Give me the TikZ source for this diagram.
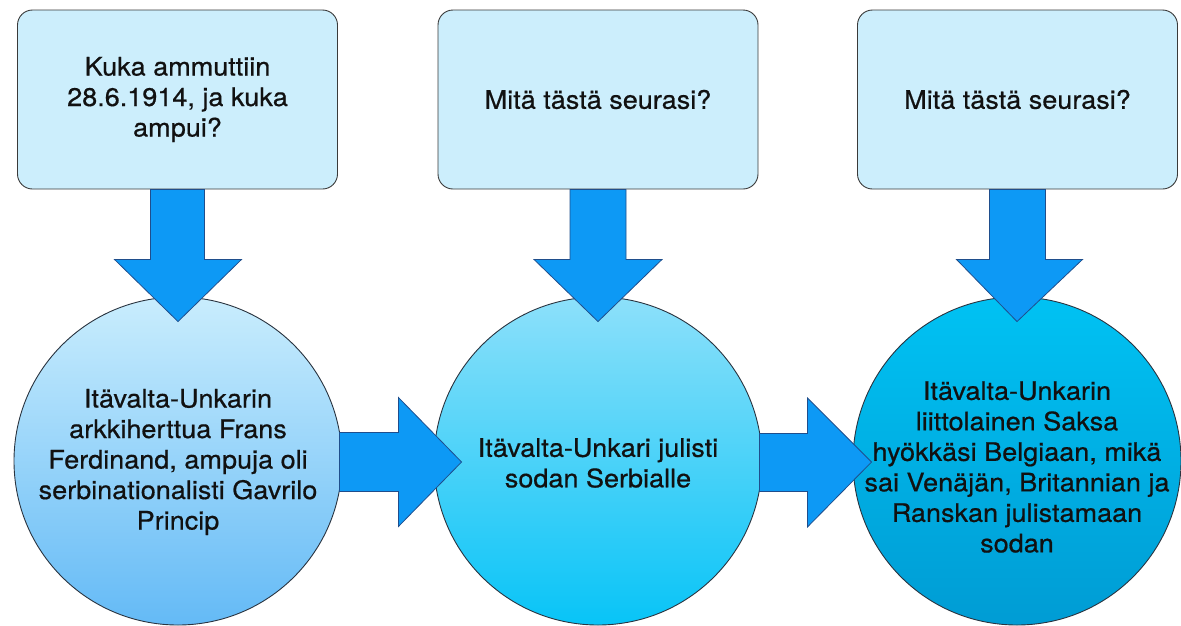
\documentclass[tikz,border=0pt]{standalone}
\usepackage{fontspec}
\setmainfont{TeX Gyre Heros}[FakeStretch=1.06,FakeBold=0.6]
\usetikzlibrary{calc}
\definecolor{boxfill}{HTML}{CCEEFC}
\definecolor{edgegray}{HTML}{3A3A3A}
\definecolor{edgedark}{HTML}{2A3440}
\definecolor{arrowfill}{HTML}{0D99F5}
\definecolor{arrowedge}{HTML}{1F4E8C}
\definecolor{cAtop}{HTML}{C9EDFD}
\definecolor{cAbot}{HTML}{64BAF6}
\definecolor{cBtop}{HTML}{8DE0FA}
\definecolor{cBbot}{HTML}{08C4F7}
\definecolor{cCtop}{HTML}{00C2F3}
\definecolor{cCbot}{HTML}{009CD4}
\definecolor{txt}{HTML}{111111}
\begin{document}
\begin{tikzpicture}[x=1pt,y=-1pt,
  txtfont/.style={font=\fontsize{25.5}{30.5}\selectfont, text=txt},
  qbox/.style={draw=edgegray, line width=0.9pt, fill=boxfill, rounded corners=15pt,
    minimum width=320pt, minimum height=179pt, inner sep=0pt, align=center, txtfont},
  evt/.style={circle, draw=edgedark, line width=0.9pt, minimum size=328pt, inner sep=0pt},
  evttext/.style={align=center, inner sep=0pt, txtfont},
  blockarrow/.style={draw=arrowedge, line width=0.8pt, fill=arrowfill, line join=miter}]
\useasboundingbox (0,0) rectangle (1181,625);

% question boxes
\node[qbox] (b1) at (177.5,99.5) {Kuka ammuttiin\\28.6.1914, ja kuka\\ampui?};
\node[qbox] (b2) at (598,99.5) {Mitä tästä seurasi?};
\node[qbox] (b3) at (1017.5,99.5) {Mitä tästä seurasi?};

% event circles
\node[evt, top color=cAtop, bottom color=cAbot] (c1) at (178,461) {};
\node[evt, top color=cBtop, bottom color=cBbot] (c2) at (598,461) {};
\node[evt, top color=cCtop, bottom color=cCbot] (c3) at (1017,461) {};

% down arrows
\draw[blockarrow] ($(b1.south)+(-27,0)$) -- ($(b1.south)+(27,0)$) -- ($(b1.south)+(27,70)$)
  -- ($(b1.south)+(64,70)$) -- ($(c1.north)+(0,25)$) -- ($(b1.south)+(-63,70)$)
  -- ($(b1.south)+(-27,70)$) -- cycle;
\draw[blockarrow] ($(b2.south)+(-28,0)$) -- ($(b2.south)+(28,0)$) -- ($(b2.south)+(28,70)$)
  -- ($(b2.south)+(64,70)$) -- ($(c2.north)+(0,25)$) -- ($(b2.south)+(-64,70)$)
  -- ($(b2.south)+(-28,70)$) -- cycle;
\draw[blockarrow] ($(b3.south)+(-28,0)$) -- ($(b3.south)+(28,0)$) -- ($(b3.south)+(28,70)$)
  -- ($(b3.south)+(65,70)$) -- ($(c3.north)+(0,25)$) -- ($(b3.south)+(-61,70)$)
  -- ($(b3.south)+(-28,70)$) -- cycle;

% right arrows
\draw[blockarrow] ($(c1.center)+(161.5,-28.5)$) -- ($(c1.east)+(56,-28.5)$) -- ($(c1.east)+(56,-63.5)$)
  -- ($(c2.west)+(28,1)$) -- ($(c1.east)+(56,65.5)$) -- ($(c1.east)+(56,30.5)$)
  -- ($(c1.center)+(161.5,30.5)$) -- cycle;
\draw[blockarrow] ($(c2.center)+(161.5,-27.5)$) -- ($(c2.east)+(45,-27.5)$) -- ($(c2.east)+(45,-63)$)
  -- ($(c3.west)+(19,1)$) -- ($(c2.east)+(45,66)$) -- ($(c2.east)+(45,30.5)$)
  -- ($(c2.center)+(161.5,30.5)$) -- cycle;

% circle texts
\node[evttext] (t1) at ($(c1.center)+(0,1)$)
  {Itävalta-Unkarin\\arkkiherttua Frans\\Ferdinand, ampuja oli\\serbinationalisti Gavrilo\\Princip};
\node[evttext] (t2) at ($(c2.center)+(0,2)$)
  {Itävalta-Unkari julisti\\sodan Serbialle};
\node[evttext] (t3) at ($(c3.center)+(0,6)$)
  {Itävalta-Unkarin\\liittolainen Saksa\\hyökkäsi Belgiaan, mikä\\sai Venäjän, Britannian ja\\Ranskan julistamaan\\sodan};
\end{tikzpicture}
\end{document}
